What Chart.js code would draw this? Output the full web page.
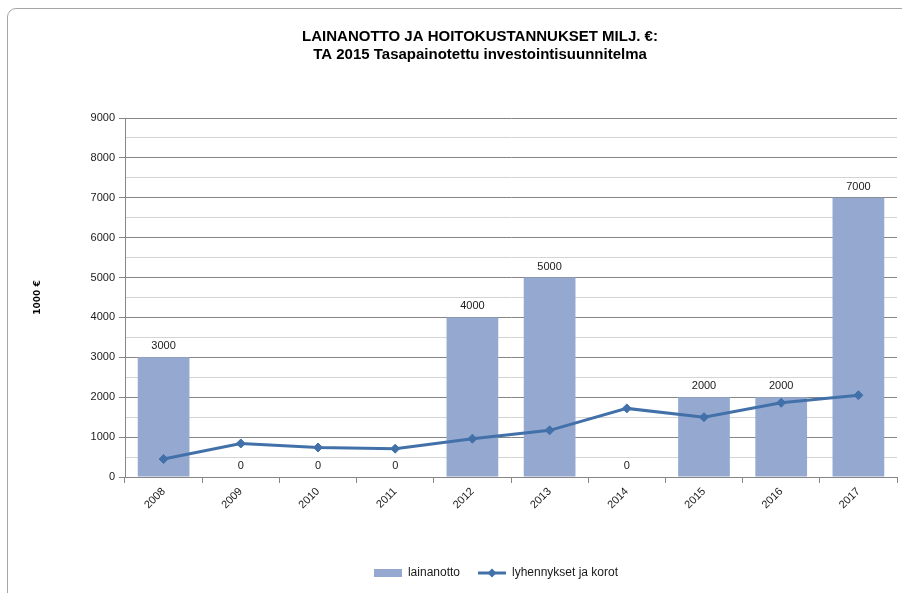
<!DOCTYPE html>
<html>
<head>
<meta charset="utf-8">
<script src="https://cdn.jsdelivr.net/npm/chart.js@4.4.1/dist/chart.umd.min.js"></script>
<style>
  html, body { margin: 0; padding: 0; background: #ffffff; overflow: hidden; width: 902px; height: 593px; }
  #frame { position: absolute; left: 7px; top: 8px; width: 1000px; height: 620px; border: 1px solid #a6a6a6; border-radius: 9px; box-sizing: border-box; }
  #c { position: absolute; left: 0; top: 0; }
</style>
</head>
<body>
<div id="frame"></div>
<canvas id="c" width="940" height="594"></canvas>
<script>
const titleLines = ['LAINANOTTO JA HOITOKUSTANNUKSET MILJ. €:', 'TA 2015 Tasapainotettu investointisuunnitelma'];
const years = ['2008', '2009', '2010', '2011', '2012', '2013', '2014', '2015', '2016', '2017'];
const lainanotto = [3000, 0, 0, 0, 4000, 5000, 0, 2000, 2000, 7000];
const lyhennykset = [450, 840, 740, 710, 960, 1170, 1720, 1500, 1860, 2050];
const seriesNames = ['lainanotto', 'lyhennykset ja korot'];
const yAxisTitle = '1000 €';
const yMax = 9000;

const BAR_COLOR = '#95a9d0';
const LINE_COLOR = '#4271aa';
const FONT = 'Liberation Sans, Arial, sans-serif';

Chart.defaults.font.family = FONT;
Chart.defaults.color = '#262626';

// legend icons
function makeBarIcon() {
  const c = document.createElement('canvas'); c.width = 28; c.height = 8;
  const x = c.getContext('2d'); x.fillStyle = BAR_COLOR; x.fillRect(0, 0, 28, 8); return c;
}
function makeLineIcon() {
  const c = document.createElement('canvas'); c.width = 28; c.height = 10;
  const x = c.getContext('2d');
  x.strokeStyle = LINE_COLOR; x.lineWidth = 3; x.beginPath(); x.moveTo(0, 5); x.lineTo(28, 5); x.stroke();
  x.fillStyle = LINE_COLOR; x.beginPath(); x.moveTo(14, 0.5); x.lineTo(18.5, 5); x.lineTo(14, 9.5); x.lineTo(9.5, 5); x.closePath(); x.fill();
  return c;
}
const barIcon = makeBarIcon();
const lineIcon = makeLineIcon();

const barLabels = {
  id: 'barLabels',
  afterDatasetsDraw(chart) {
    const ctx = chart.ctx;
    const meta = chart.getDatasetMeta(0);
    ctx.save();
    ctx.font = '11px ' + FONT;
    ctx.fillStyle = '#1a1a1a';
    ctx.textAlign = 'center';
    ctx.textBaseline = 'alphabetic';
    meta.data.forEach((el, i) => {
      ctx.fillText(String(lainanotto[i]), el.x, el.y - 8);
    });
    ctx.restore();
  }
};

const legendShift = {
  id: 'legendShift',
  afterLayout(chart) {
    if (chart.legend) { chart.legend.left += 16; chart.legend.right += 16; }
  }
};

new Chart(document.getElementById('c'), {
  data: {
    labels: years,
    datasets: [
      {
        type: 'bar',
        label: seriesNames[0],
        data: lainanotto,
        backgroundColor: BAR_COLOR,
        borderWidth: 0,
        barPercentage: 0.67,
        categoryPercentage: 1.0,
        order: 2
      },
      {
        type: 'line',
        label: seriesNames[1],
        data: lyhennykset,
        borderColor: LINE_COLOR,
        backgroundColor: LINE_COLOR,
        borderWidth: 3,
        pointStyle: 'rectRot',
        pointRadius: 4.5,
        pointBorderWidth: 1,
        tension: 0,
        order: 1
      }
    ]
  },
  options: {
    responsive: false,
    animation: false,
    layout: { padding: { left: 32, right: 12, top: 0, bottom: 5 } },
    plugins: {
      tooltip: { enabled: false },
      title: {
        display: true,
        text: titleLines,
        color: '#000000',
        font: { size: 15, weight: 'bold', family: FONT, lineHeight: 1.2 },
        padding: { top: 28, bottom: 54 }
      },
      legend: {
        position: 'bottom',
        labels: {
          usePointStyle: true,
          pointStyleWidth: 28,
          boxHeight: 10,
          padding: 18,
          color: '#1a1a1a',
          font: { size: 12, family: FONT },
          sort: (a, b) => a.datasetIndex - b.datasetIndex,
          generateLabels(chart) {
            const items = Chart.defaults.plugins.legend.labels.generateLabels(chart);
            items.forEach(it => { it.pointStyle = it.datasetIndex === 0 ? barIcon : lineIcon; });
            return items;
          }
        }
      }
    },
    scales: {
      x: {
        type: 'category',
        offset: true,
        grid: {
          offset: true,
          drawOnChartArea: false,
          drawTicks: true,
          tickLength: 6,
          color: '#868686'
        },
        border: { display: true, color: '#868686', width: 1 },
        ticks: {
          minRotation: 45,
          maxRotation: 45,
          padding: 2,
          color: '#1a1a1a',
          font: { size: 11, family: FONT }
        },
        afterFit(s) { s.height = 72; }
      },
      y: {
        type: 'linear',
        position: 'left',
        min: 0,
        max: yMax,
        ticks: {
          stepSize: 500,
          padding: 4,
          color: '#1a1a1a',
          font: { size: 11, family: FONT },
          callback: (v) => (v % 1000 === 0 ? String(v) : '')
        },
        grid: {
          drawTicks: true,
          tickLength: 6,
          color: (ctx) => (ctx.tick && ctx.tick.value % 1000 === 0 ? '#868686' : '#d4d4d4'),
          tickColor: (ctx) => (ctx.tick && ctx.tick.value % 1000 === 0 ? '#868686' : 'rgba(0,0,0,0)')
        },
        border: { display: true, color: '#868686', width: 1 },
        title: {
          display: true,
          text: yAxisTitle,
          color: '#000000',
          font: { size: 9, weight: 'bold', family: 'DejaVu Sans, Verdana, sans-serif', lineHeight: 1.2 },
          padding: { top: 0, bottom: 0 }
        },
        afterFit(s) { s.width = 93; }
      },
      yDummy: {
        type: 'linear',
        position: 'right',
        display: true,
        grid: { display: false, drawTicks: false },
        border: { display: false },
        ticks: { display: false },
        afterFit(s) { s.width = 31; }
      }
    }
  },
  plugins: [barLabels, legendShift]
});
</script>
</body>
</html>
